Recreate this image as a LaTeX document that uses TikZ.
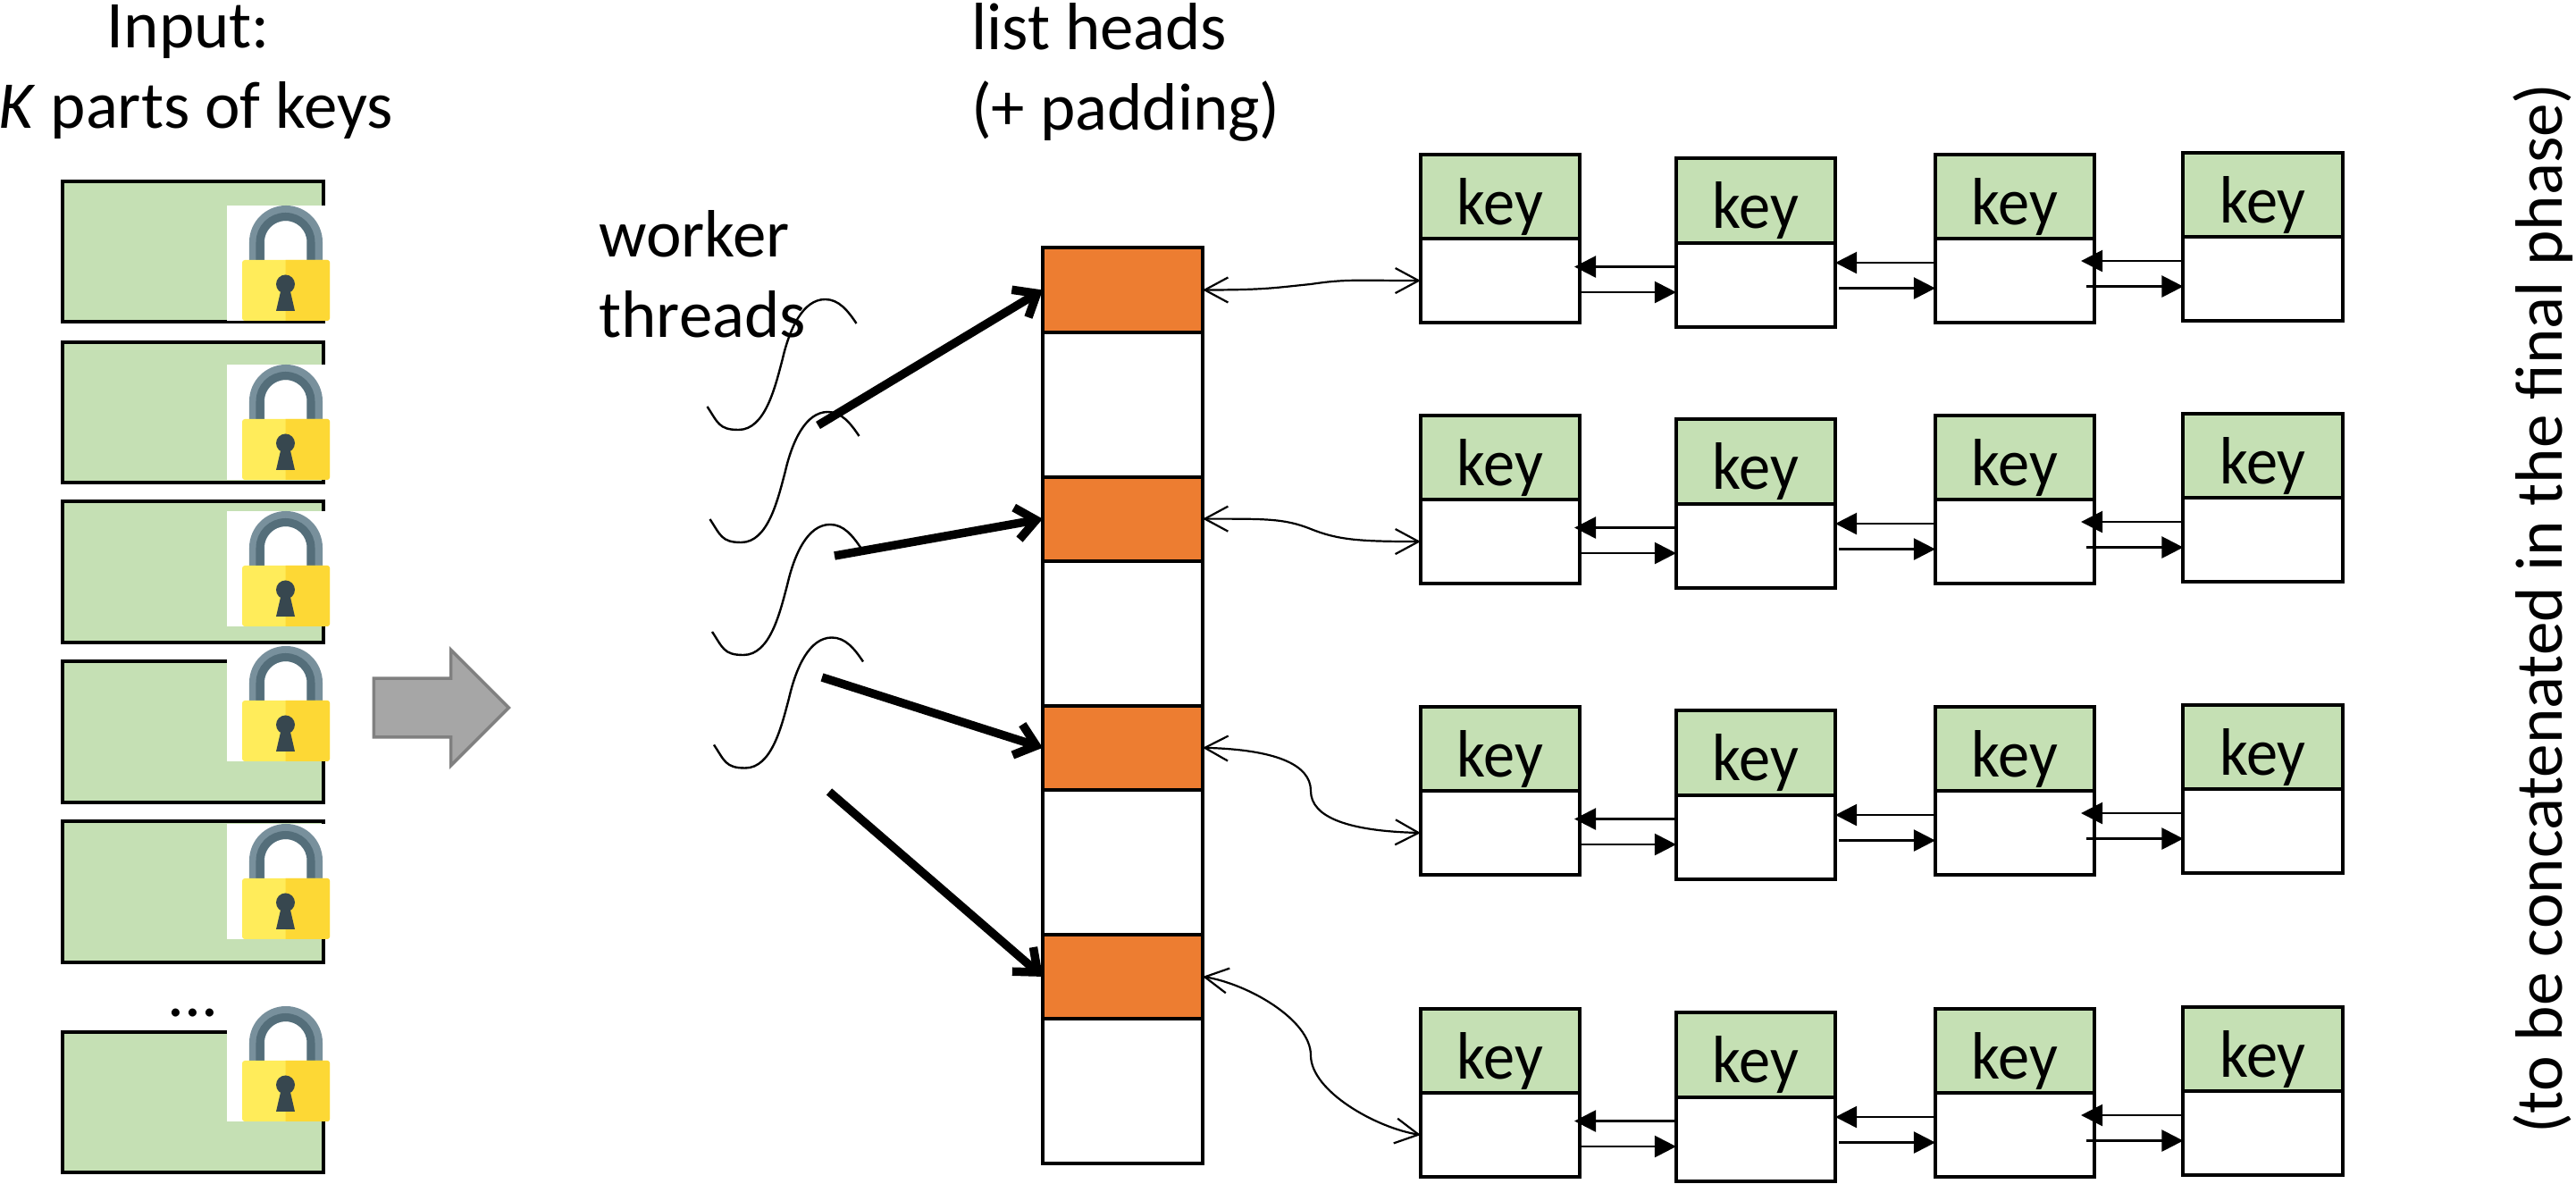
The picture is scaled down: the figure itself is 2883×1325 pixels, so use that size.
\documentclass[tikz,border=0pt]{standalone}
\usepackage{fontspec}
\usepackage{graphicx}
\setmainfont{Carlito}
\usepackage{tikz}
\usetikzlibrary{positioning}
\usetikzlibrary{shapes.arrows}
\usetikzlibrary{arrows.meta}
\definecolor{keygreen}{HTML}{C5E0B4}
\definecolor{headorange}{HTML}{ED7D31}
\definecolor{lockleft}{HTML}{FFEC5A}
\definecolor{lockright}{HTML}{FDD835}
\definecolor{shacklelight}{HTML}{78909C}
\definecolor{shackledark}{HTML}{546E7A}
\definecolor{holedark}{HTML}{37474F}
\newcommand{\bigfont}{\fontsize{21.3}{25.6}\selectfont}

\begin{document}
\begin{tikzpicture}[x=0.01cm,y=-0.01cm,
  node distance = 0pt,
  every node/.style = {font=\bigfont},
  partbox/.style = {draw,line width=0.04cm,fill=keygreen,minimum width=2.92cm,minimum height=1.57cm},
  keycell/.style = {draw,line width=0.04cm,fill=keygreen,minimum width=1.78cm,minimum height=0.94cm,
        inner sep=0pt,outer sep=0pt,text height=0.76cm,text depth=0.14cm},
  linkcell/.style = {draw,line width=0.04cm,fill=white,minimum width=1.78cm,minimum height=0.94cm,
        inner sep=0pt,outer sep=0pt},
  headcell/.style = {draw,line width=0.04cm,fill=headorange,minimum width=1.79cm,minimum height=0.94cm,
        inner sep=0pt,outer sep=0pt},
  padcell/.style = {draw,line width=0.04cm,fill=white,minimum width=1.79cm,minimum height=1.62cm,
        inner sep=0pt,outer sep=0pt},
  bigarrow/.style = {single arrow,draw=black!50,line width=0.035cm,fill=black!35,inner xsep=0pt,inner ysep=0.31cm,
        minimum height=1.51cm,single arrow head extend=0.32cm},
  threadline/.style = {line width=0.024cm},
  workarrow/.style = {line width=0.095cm,-{Straight Barb[length=0.22cm,width=0.36cm]}},
  biarrow/.style = {line width=0.022cm,{Straight Barb[length=0.26cm,width=0.28cm]}-{Straight Barb[length=0.26cm,width=0.28cm]}},
  linkarrow/.style = {line width=0.025cm,-{Triangle[length=0.24cm,width=0.24cm]}},
  padlock/.pic = {
    \fill[white] (0,0) rectangle (112,129);
    \draw[shacklelight,line width=0.17cm] (33.5,62) -- (33.5,41) arc (180:360:32.5) -- (98.5,62);
    \draw[shackledark,line width=0.09cm] (37,62) -- (37,41) arc (180:360:28.5) -- (94,62);
    \fill[lockleft,rounded corners=0.03cm] (17,61) rectangle (115,129);
    \fill[lockright] (65.5,61) -- (113,61) -- (115,63) -- (115,127) -- (113,129) -- (65.5,129) -- cycle;
    \fill[holedark] (65.5,88) circle (10.5);
    \fill[holedark] (61,92) -- (70,92) -- (76,118) -- (55,118) -- cycle;
  }]
 \useasboundingbox (0,0) rectangle (2883,1325);

 \node[align=center] (inputtext) at (219,81) {Input:\kern0.16cm\\\textit{K} parts of keys};
 \node[align=left] (headtext) at (1260,81) {list heads\\(+ padding)};
 \node[align=left,anchor=west] (workertext) at (658,307) {worker\\threads};
 \node[anchor=base,rotate=90] (finaltext) at (2867,681) {\scalebox{1.003}[1]{(to be concatenated in the final phase)}};

 \foreach \i/\y/\l in {1/281.5/230,2/461.5/408,3/640/572,4/819/723,5/998/922,6/1233.5/1126} {
  \node[partbox] (part\i) at (216,\y) {};
  \pic at (254,\l) {padlock};
 }
 \node[anchor=base] (dots) at (216,1138) {...};
 \node[bigarrow] (flow) at (477.5,792) {};

 \foreach \i/\x/\y in {1/791.5/455,2/794.5/581,3/797/707,4/799/833.5} {
  \draw[threadline] (\x,\y) .. controls +(12,18) and +(-22,0) .. ++(35,26)
    .. controls +(30,0) and +(-8,30) .. ++(49,-78)
    .. controls +(8,-35) and +(-25,0) .. ++(48,-68)
    .. controls +(15,0) and +(-10,-15) .. ++(35,27);
 }

 \node[headcell] (h1) at (1256.5,324.5) {};
 \node[padcell,below=of h1] (g1) {};
 \node[headcell,below=of g1] (h2) {};
 \node[padcell,below=of h2] (g2) {};
 \node[headcell,below=of g2] (h3) {};
 \node[padcell,below=of h3] (g3) {};
 \node[headcell,below=of g3] (h4) {};
 \node[padcell,below=of h4] (g4) {};

 \coordinate (t1) at (915.5,476);
 \coordinate (t2) at (934,622);
 \coordinate (t3) at (920,758);
 \coordinate (t4) at (928,886);
 \foreach \i in {1,...,4} {
  \draw[workarrow] (t\i) -- (h\i.west);
 }

 \foreach \r/\y in {1/173,2/465,3/791,4/1129} {
  \foreach \c/\x/\d in {1/1679/0,2/1965/4.5,3/2255/0,4/2532.5/-2} {
   \node[keycell] (k\r\c) at ({\x},{\y+\d+47}) {\scalebox{0.94}[1]{key}};
   \node[linkcell,below=of k\r\c] (p\r\c) {};
  }
 }

 \foreach \r in {1,...,4} {
  \foreach \c/\n/\a/\b in {1/2/-0.06/0,2/3/0/0.04,3/4/-0.15/-0.09} {
   \draw[linkarrow] ([yshift=0.2cm]p\r\n.west) -- ([yshift=0.2cm,xshift=\a cm]p\r\n.west -| p\r\c.east);
   \draw[linkarrow] ([yshift=-0.085cm,xshift=\b cm]p\r\n.west -| p\r\c.east) -- ([yshift=-0.085cm]p\r\n.west);
  }
 }

 \coordinate (m1) at (1467,318);
 \coordinate (m2) at (1467,592);
 \coordinate (m3) at (1467,885);
 \coordinate (m4) at (1467,1181);
 \draw[biarrow] (h1.east) .. controls +(70,0) and +(-40,4) .. (m1) .. controls +(40,-6) and +(-70,0) .. (p11.west);
 \draw[biarrow] (h2.east) .. controls +(70,0) and +(-30,-12) .. (m2) .. controls +(30,12) and +(-70,0) .. (p21.west);
 \draw[biarrow] (h3.east) .. controls +(80,2) and +(0,-30) .. (m3) .. controls +(0,30) and +(-80,-2) .. (p31.west);
 \draw[biarrow] (h4.east) .. controls +(50,8) and +(0,-40) .. (m4) .. controls +(0,40) and +(-50,-8) .. (p41.west);
\end{tikzpicture}
\end{document}
